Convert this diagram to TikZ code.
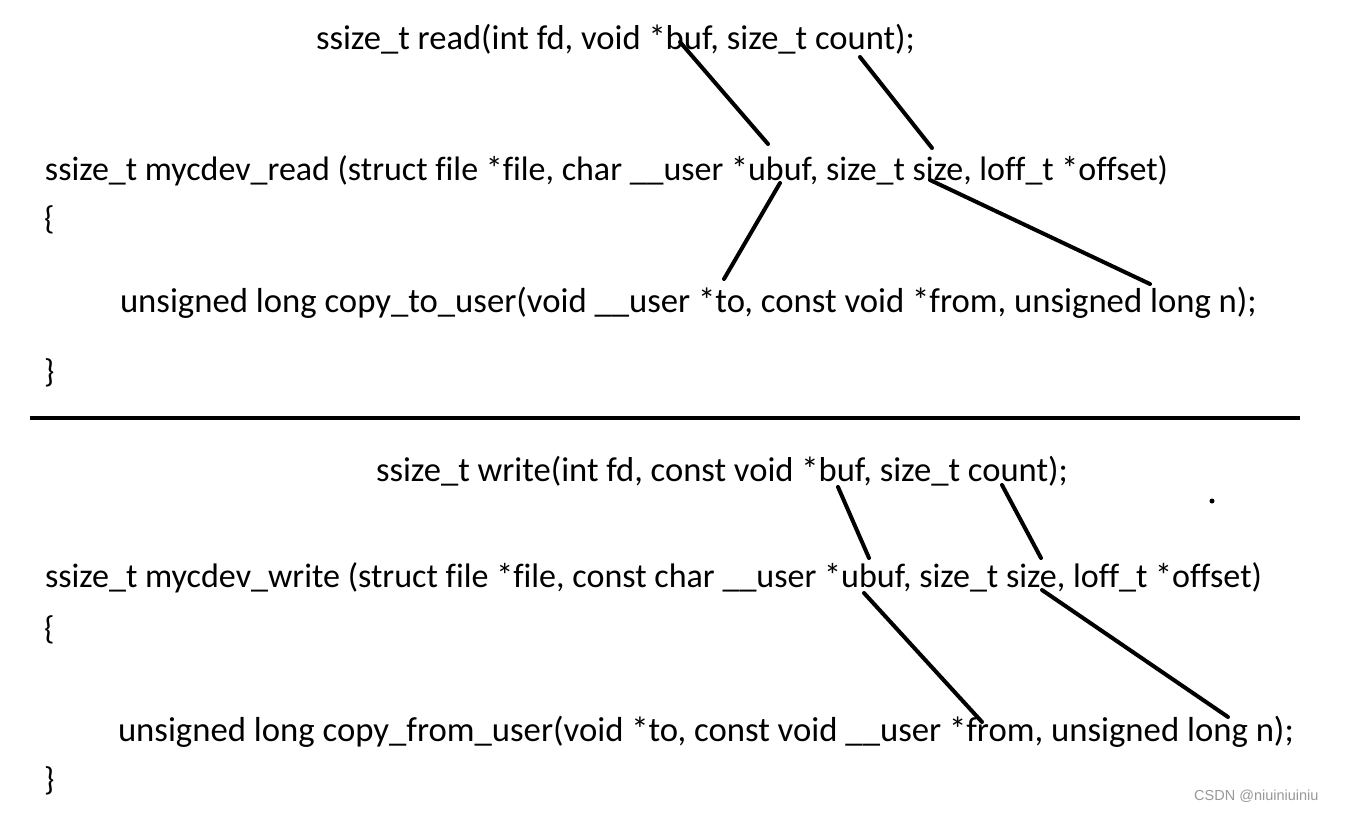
\documentclass[tikz,border=0pt]{standalone}
\usepackage{fontspec}
\setmainfont{Carlito}[Ligatures=NoCommon]
\newfontfamily\wmfont{Liberation Sans}
\begin{document}
\begin{tikzpicture}[x=1pt,y=-1pt,
  code/.style={anchor=base west,inner sep=0pt,outer sep=0pt,font=\fontsize{27}{30}\selectfont},
  brace/.style={anchor=base west,inner sep=0pt,outer sep=0pt,font=\fontsize{33}{36}\selectfont},
  link/.style={line width=4pt,line cap=round,black},
  rule/.style={line width=4pt,black}]
\useasboundingbox[fill=white] (0,0) rectangle (1345,812);
% --- read section ---
\node[code] (r1) at (316,49) {\resizebox{599pt}{!}{ssize\_t read(int fd, void *buf, size\_t count);}};
\node[code] (r2) at (45,180) {\resizebox{1123pt}{!}{ssize\_t mycdev\_read (struct file *file, char \_\_user *ubuf, size\_t size, loff\_t *offset)}};
\node[brace] (r3) at (44,229) {\{};
\node[code] (r4) at (120,312) {\resizebox{1137pt}{!}{unsigned long copy\_to\_user(void \_\_user *to, const void *from, unsigned long n);}};
\node[brace] (r5) at (44,382) {\}};
% separator
\coordinate (s1) at (30,418);
\coordinate (s2) at (1300,418);
\draw[rule] (s1) -- (s2);
% --- write section ---
\node[code] (w1) at (376,481) {\resizebox{692pt}{!}{ssize\_t write(int fd, const void *buf, size\_t count);}};
\node[code] (w2) at (45,587) {\resizebox{1217pt}{!}{ssize\_t mycdev\_write (struct file *file, const char \_\_user *ubuf, size\_t size, loff\_t *offset)}};
\node[brace] (w3) at (44,639) {\{};
\node[code] (w4) at (118,741) {\resizebox{1176pt}{!}{unsigned long copy\_from\_user(void *to, const void \_\_user *from, unsigned long n);}};
\node[brace] (w5) at (44,790) {\}};
% connector end points on the words
\coordinate (rbuf) at (680,42);
\coordinate (rubufT) at (768,144);
\coordinate (rcount) at (860,57);
\coordinate (rsizeT) at (932,148);
\coordinate (rubufB) at (780,183);
\coordinate (rto) at (724,279);
\coordinate (rsizeB) at (930,180);
\coordinate (rlong) at (1150,284);
\coordinate (wbuf) at (838,487);
\coordinate (wubufT) at (869,558);
\coordinate (wcount) at (1002,485);
\coordinate (wsizeT) at (1041,558);
\coordinate (wubufB) at (864,593);
\coordinate (wfrom) at (982,722);
\coordinate (wsizeB) at (1042,590);
\coordinate (wlong) at (1228,717);
\draw[link] (rbuf) -- (rubufT);
\draw[link] (rcount) -- (rsizeT);
\draw[link] (rubufB) -- (rto);
\draw[link] (rsizeB) -- (rlong);
\draw[link] (wbuf) -- (wubufT);
\draw[link] (wcount) -- (wsizeT);
\draw[link] (wubufB) -- (wfrom);
\draw[link] (wsizeB) -- (wlong);
% stray dot
\fill[black] (1212,501) circle (2.5);
% watermark
\node[anchor=base west,inner sep=0pt,text=black!40,font=\wmfont\fontsize{14.5}{16}\selectfont] (wm) at (1194,800) {CSDN @niuiniuiniu};
\end{tikzpicture}
\end{document}
